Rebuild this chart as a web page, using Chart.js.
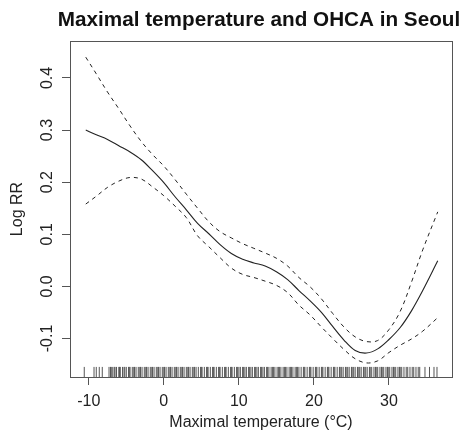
<!DOCTYPE html>
<html>
<head>
<meta charset="utf-8">
<script src="https://cdn.jsdelivr.net/npm/chart.js@4"></script>
<style>
  body { margin: 0; background: #fff; }
  #chart { display: block; }
</style>
</head>
<body>
<canvas id="chart" width="465" height="441"></canvas>
<script>
// Maximal temperature (°C) grid and fitted log RR with 95% CI
const temps = [-10.4, -9, -7.5, -6, -4.5, -3, -1.5, 0, 1.5, 3, 4.5, 6, 7.5, 9, 10.5, 12, 13.5, 15, 16.5, 18, 19.5, 21, 22.5, 24, 25.5, 27, 28.5, 30, 31.5, 33, 34.5, 36.5];
const logRR = [0.300, 0.291, 0.282, 0.270, 0.258, 0.243, 0.222, 0.199, 0.172, 0.147, 0.121, 0.101, 0.080, 0.063, 0.052, 0.045, 0.039, 0.028, 0.013, -0.008, -0.028, -0.050, -0.077, -0.103, -0.123, -0.128, -0.120, -0.102, -0.079, -0.047, -0.008, 0.049];
const upper = [0.440, 0.408, 0.373, 0.341, 0.308, 0.278, 0.253, 0.231, 0.205, 0.177, 0.150, 0.124, 0.105, 0.093, 0.082, 0.073, 0.064, 0.054, 0.039, 0.017, -0.001, -0.024, -0.052, -0.078, -0.097, -0.106, -0.104, -0.083, -0.048, 0.008, 0.070, 0.143];
const lower = [0.158, 0.173, 0.190, 0.202, 0.209, 0.206, 0.191, 0.174, 0.154, 0.132, 0.097, 0.076, 0.055, 0.035, 0.023, 0.017, 0.010, 0.002, -0.012, -0.036, -0.055, -0.078, -0.100, -0.121, -0.139, -0.147, -0.143, -0.127, -0.113, -0.101, -0.086, -0.060];

// observed daily maximal temperatures (rug)
const rugTemps = [-10.6, -9.3, -9.0, -8.6, -8.2, -7.3, -7.1, -7.0, -6.8, -6.6, -6.5, -6.3, -6.0, -5.9, -5.8, -5.5, -5.3, -5.2, -5.0, -4.7, -4.6, -4.5, -4.2, -4.0, -3.9, -3.7, -3.4, -3.2, -3.1, -2.9, -2.6, -2.4, -2.3, -2.1, -1.8, -1.6, -1.5, -1.3, -1.0, -0.8, -0.7, -0.5, -0.2, 0.0, 0.1, 0.3, 0.6, 0.8, 0.9, 1.1, 1.4, 1.6, 1.7, 1.9, 2.2, 2.4, 2.5, 2.7, 3.0, 3.2, 3.3, 3.5, 3.8, 4.0, 4.1, 4.3, 4.6, 4.9, 5.0, 5.1, 5.4, 5.7, 5.8, 5.9, 6.2, 6.5, 6.6, 6.7, 7.0, 7.3, 7.4, 7.5, 7.8, 8.1, 8.2, 8.3, 8.6, 8.9, 9.0, 9.1, 9.4, 9.7, 9.8, 10.0, 10.2, 10.5, 10.6, 10.8, 11.0, 11.3, 11.4, 11.6, 11.8, 12.1, 12.2, 12.4, 12.6, 12.9, 13.0, 13.2, 13.4, 13.7, 13.8, 14.0, 14.3, 14.5, 14.6, 14.8, 15.1, 15.3, 15.4, 15.6, 15.9, 16.1, 16.2, 16.4, 16.7, 16.9, 17.0, 17.2, 17.5, 17.7, 17.8, 18.0, 18.3, 18.6, 18.7, 18.8, 19.1, 19.4, 19.5, 19.6, 19.9, 20.2, 20.3, 20.4, 20.7, 21.0, 21.1, 21.2, 21.5, 21.8, 21.9, 22.0, 22.3, 22.6, 22.7, 22.8, 23.1, 23.4, 23.5, 23.7, 23.9, 24.2, 24.3, 24.5, 24.7, 25.0, 25.1, 25.3, 25.5, 25.8, 25.9, 26.1, 26.3, 26.6, 26.7, 26.9, 27.1, 27.4, 27.5, 27.7, 28.0, 28.2, 28.3, 28.5, 28.8, 29.0, 29.1, 29.3, 29.6, 29.8, 29.9, 30.1, 30.4, 30.6, 30.7, 30.9, 31.2, 31.4, 31.5, 31.7, 32.0, 32.3, 32.5, 32.8, 33.1, 33.3, 33.6, 33.9, 34.1, 34.8, 35.4, 36.0, 36.4];

const yTickLabels = [-0.1, 0.0, 0.1, 0.2, 0.3, 0.4];
const chartTitle = "Maximal temperature and OHCA in Seoul";

const FONT = "'Liberation Sans', Arial, Helvetica, sans-serif";
const INK = "#222";
const FRAME = "#555";

function toPoints(ys) {
  return temps.map((t, i) => ({ x: t, y: ys[i] }));
}

// box round the plot, like R's bty="o"
const frameBox = {
  id: "frameBox",
  afterDraw(chart) {
    const { ctx, chartArea: a } = chart;
    ctx.save();
    ctx.strokeStyle = FRAME;
    ctx.lineWidth = 1;
    ctx.strokeRect(Math.round(a.left) + 0.5, Math.round(a.top) + 0.5,
      Math.round(a.right - a.left), Math.round(a.bottom - a.top));
    ctx.restore();
  },
};

// title centred over the plot region, as R's main=
const plotTitle = {
  id: "plotTitle",
  afterDraw(chart) {
    const { ctx, chartArea: a } = chart;
    ctx.save();
    ctx.fillStyle = "#111";
    ctx.font = "bold 20.7px " + FONT;
    ctx.textAlign = "center";
    ctx.textBaseline = "middle";
    ctx.fillText(chartTitle, (a.left + a.right) / 2 - 2, 20);
    ctx.restore();
  },
};

// rug of observations along the bottom edge
const rug = {
  id: "rug",
  afterDatasetsDraw(chart) {
    const { ctx, chartArea: a, scales } = chart;
    const len = (a.bottom - a.top) * 0.03;
    ctx.save();
    ctx.strokeStyle = "#555";
    ctx.lineWidth = 1;
    ctx.beginPath();
    rugTemps.forEach((t) => {
      const px = scales.x.getPixelForValue(t);
      ctx.moveTo(px, a.bottom);
      ctx.lineTo(px, a.bottom - len);
    });
    ctx.stroke();
    ctx.restore();
  },
};

// y tick labels drawn parallel to the axis (R default las=0)
const yLabels = {
  id: "yLabels",
  afterDraw(chart) {
    const { ctx, scales } = chart;
    ctx.save();
    ctx.fillStyle = INK;
    ctx.font = "16px " + FONT;
    ctx.textAlign = "center";
    ctx.textBaseline = "middle";
    yTickLabels.forEach((v) => {
      const py = scales.y.getPixelForValue(v);
      ctx.save();
      ctx.translate(48, py);
      ctx.rotate(-Math.PI / 2);
      ctx.fillText(v.toFixed(1), 0, 0);
      ctx.restore();
    });
    ctx.restore();
  },
};

const lineStyle = { borderColor: INK, borderWidth: 1.1, pointRadius: 0, fill: false, tension: 0.35 };

new Chart(document.getElementById("chart"), {
  type: "line",
  data: {
    datasets: [
      { ...lineStyle, label: "Log RR", data: toPoints(logRR) },
      { ...lineStyle, label: "Upper 95% CI", data: toPoints(upper), borderDash: [4, 4], borderWidth: 1 },
      { ...lineStyle, label: "Lower 95% CI", data: toPoints(lower), borderDash: [4, 4], borderWidth: 1 },
    ],
  },
  options: {
    responsive: false,
    animation: false,
    devicePixelRatio: 1,
    layout: { padding: { left: 0, right: 13, top: 41, bottom: 0 } },
    plugins: {
      legend: { display: false },
      tooltip: { enabled: false },
      title: { display: false },
    },
    scales: {
      x: {
        type: "linear",
        min: -12.5,
        max: 38.4,
        afterFit: (s) => { s.height = 64; },
        ticks: {
          stepSize: 10,
          includeBounds: false,
          color: INK,
          font: { family: FONT, size: 16 },
          padding: 7,
          maxRotation: 0,
        },
        grid: { drawOnChartArea: false, drawTicks: true, tickLength: 8, color: FRAME },
        border: { display: true, color: FRAME },
        title: {
          display: true,
          text: "Maximal temperature (°C)",
          color: INK,
          font: { family: FONT, size: 16 },
          padding: { top: 0, bottom: 9 },
        },
      },
      y: {
        type: "linear",
        min: -0.174,
        max: 0.471,
        afterFit: (s) => { s.width = 70; },
        ticks: { stepSize: 0.1, includeBounds: false, display: false },
        grid: { drawOnChartArea: false, drawTicks: true, tickLength: 8, color: FRAME },
        border: { display: true, color: FRAME },
        title: {
          display: true,
          text: "Log RR",
          color: INK,
          font: { family: FONT, size: 16 },
          padding: { top: 8, bottom: 0 },
        },
      },
    },
  },
  plugins: [frameBox, plotTitle, rug, yLabels],
});
</script>
</body>
</html>
